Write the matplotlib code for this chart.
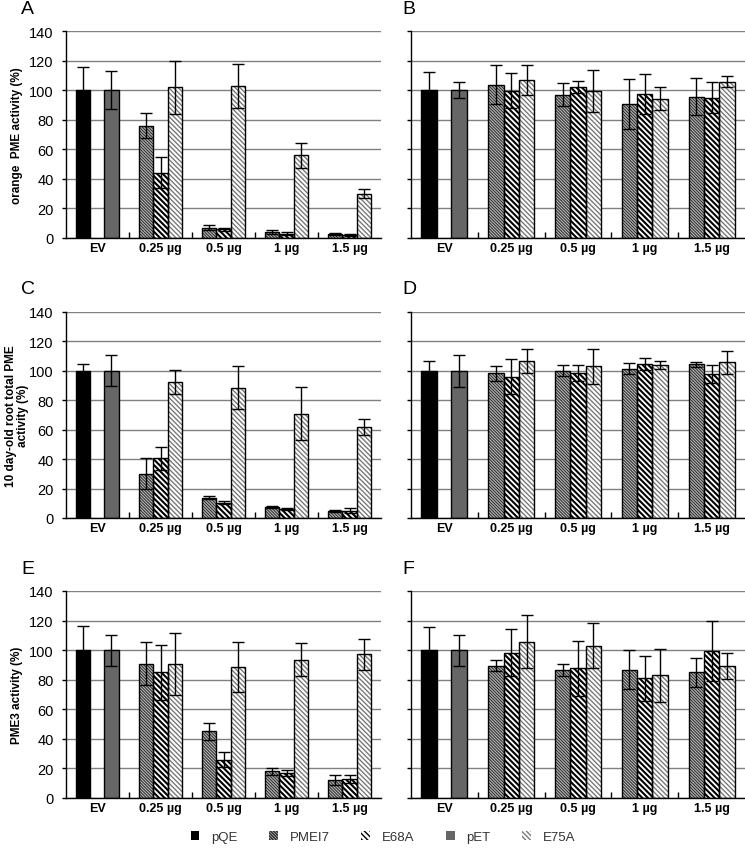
import matplotlib
matplotlib.use("Agg")
import matplotlib.pyplot as plt
from matplotlib.patches import Patch
import numpy as np

plt.rcParams['font.family'] = ['Liberation Sans', 'DejaVu Sans']

categories = ["EV", "0.25 µg", "0.5 µg", "1 µg", "1.5 µg"]
series = ["pQE", "PMEI7", "E68A", "pET", "E75A"]

# EV controls: [pQE, pET] values and errors per panel
ev_vals = {
    "A": [100, 100], "B": [100, 100], "C": [100, 100],
    "D": [100, 100], "E": [100, 100], "F": [100, 100],
}
ev_errs = {
    "A": [15.5, 13], "B": [12, 5.5], "C": [5, 10.5],
    "D": [6.5, 11], "E": [16, 10.5], "F": [15.5, 10.5],
}
# Dose groups (0.25, 0.5, 1, 1.5 µg) for PMEI7, E68A, E75A
pmei7_vals = {
    "A": [76, 7, 4, 2.5], "B": [103.8, 97, 90.5, 95.7],
    "C": [30, 13.9, 7.3, 4.8], "D": [98.4, 100, 101.6, 104.5],
    "E": [90.9, 45, 18, 12], "F": [89.6, 86.4, 86.9, 84.9],
}
pmei7_errs = {
    "A": [8.5, 1.5, 1.5, 0.8], "B": [13, 8, 17, 12.8],
    "C": [10.5, 1.3, 0.6, 0.4], "D": [5, 3.8, 3.8, 1.6],
    "E": [14.6, 6, 2.5, 3.3], "F": [3.5, 4, 13, 9.5],
}
e68a_vals = {
    "A": [44, 6, 3, 2], "B": [99.7, 102, 97.7, 95],
    "C": [40.5, 10.5, 6.1, 5], "D": [96.1, 98.4, 104.5, 97.7],
    "E": [84.9, 26, 17, 13], "F": [98.4, 87.8, 80.9, 99.3],
}
e68a_errs = {
    "A": [10.5, 1, 1, 0.5], "B": [12, 4, 13.5, 10.7],
    "C": [8, 1, 0.4, 1.5], "D": [11.7, 5.6, 4.1, 6],
    "E": [18.3, 5.2, 2, 2.7], "F": [15.8, 18.5, 15.2, 20.5],
}
e75a_vals = {
    "A": [102, 103, 56, 30], "B": [107, 99.3, 94.3, 105.8],
    "C": [92.3, 88.6, 70.9, 62], "D": [106.8, 103, 103.9, 105.7],
    "E": [90.4, 88.7, 93.6, 97.1], "F": [105.8, 103.1, 82.9, 89.3],
}
e75a_errs = {
    "A": [18, 15, 8.5, 3.2], "B": [10, 14, 7.6, 3.5],
    "C": [8, 14.5, 18, 5.5], "D": [8, 11.7, 2.5, 8],
    "E": [21, 17, 11, 10.3], "F": [18, 15.5, 18, 9],
}
ylabels = {
    "A": "orange  PME activity (%)",
    "C": "10 day-old root total PME\nactivity (%)",
    "E": "PME3 activity (%)",
}
yticks = [0, 20, 40, 60, 80, 100, 120, 140]

W, H = 745, 853
fig = plt.figure(figsize=(W / 100, H / 100), dpi=100)

def px_axes(l, t, r, b):
    return fig.add_axes([l / W, 1 - b / H, (r - l) / W, (b - t) / H])

styles = {
    "pQE": dict(face="black", hatch=None, hcol=None, hlw=0),
    "pET": dict(face="#666666", hatch=None, hcol=None, hlw=0),
    "PMEI7": dict(face="#b4b4b4", hatch="\\" * 11, hcol="#2a2a2a", hlw=0.7),
    "E68A": dict(face="white", hatch="\\" * 6, hcol="black", hlw=1.5),
    "E75A": dict(face="white", hatch="\\" * 7, hcol="#7a7a7a", hlw=1.0),
}

bw = 0.23

def draw_bars(ax, x, vals, errs, name):
    st = styles[name]
    if st["hatch"]:
        bars = ax.bar(x, vals, bw, color=st["face"], edgecolor=st["hcol"],
                      hatch=st["hatch"], linewidth=0, zorder=3)
        for b in bars:
            if hasattr(b, "set_hatch_linewidth"):
                b.set_hatch_linewidth(st["hlw"])
        ax.bar(x, vals, bw, facecolor="none", edgecolor="black",
               linewidth=1.0, zorder=4)
    else:
        ax.bar(x, vals, bw, color=st["face"], edgecolor="black",
               linewidth=1.0, zorder=3)
    ax.errorbar(x, vals, yerr=errs, fmt="none", ecolor="black",
                elinewidth=1.0, capsize=4, capthick=1.0, zorder=5)

rows = [(32, 239), (313, 519), (592, 799)]
cols = [(66, 381), (411, 745)]
panels = [["A", "B"], ["C", "D"], ["E", "F"]]

groups = np.arange(len(categories))
for ri, (t, b) in enumerate(rows):
    for ci, (l, r) in enumerate(cols):
        key = panels[ri][ci]
        ax = px_axes(l, t, r, b)
        ax.set_xlim(-0.5, len(categories) - 0.5)
        ax.set_ylim(0, 140)
        ax.set_yticks(yticks)
        ax.yaxis.grid(True, color="#808080", linewidth=1.0, zorder=0)
        ax.set_axisbelow(True)
        for s in ["top", "right"]:
            ax.spines[s].set_visible(False)
        for s in ["left", "bottom"]:
            ax.spines[s].set_color("black")
            ax.spines[s].set_linewidth(1.0)
            ax.spines[s].set_zorder(6)
        # EV controls
        draw_bars(ax, [groups[0] - 0.23], [ev_vals[key][0]], [ev_errs[key][0]], "pQE")
        draw_bars(ax, [groups[0] + 0.22], [ev_vals[key][1]], [ev_errs[key][1]], "pET")
        dx = groups[1:]
        draw_bars(ax, dx - bw, pmei7_vals[key], pmei7_errs[key], "PMEI7")
        draw_bars(ax, dx, e68a_vals[key], e68a_errs[key], "E68A")
        draw_bars(ax, dx + bw, e75a_vals[key], e75a_errs[key], "E75A")

        ax.set_xticks(groups)
        ax.set_xticklabels(categories, fontsize=9, fontweight="bold")
        ax.set_xticks(groups[:-1] + 0.5, minor=True)
        ax.tick_params(axis="x", which="major", length=0, pad=3)
        ax.tick_params(axis="x", which="minor", length=4, direction="in",
                       width=1.0)
        ax.tick_params(axis="y", length=3, direction="out", width=1.0)
        if ci == 0:
            ax.set_yticklabels([str(v) for v in yticks], fontsize=10.5)
            ax.tick_params(axis="y", pad=6)
            ycen = 1 - (t + b) / 2 / H
            xlab = 17 / W
            fig.text(xlab, ycen, ylabels[key], rotation=90, ha="center",
                     va="center", fontsize=8.5, fontweight="bold",
                     multialignment="center", linespacing=1.0)
        else:
            ax.set_yticklabels([])
        # panel letter
        lx = 21 if ci == 0 else 402
        fig.text(lx / W, 1 - (t - 23) / H, key, fontsize=14, ha="left",
                 va="center")

handles = []
for name in series:
    st = styles[name]
    if st["hatch"]:
        handles.append(Patch(facecolor=st["face"], edgecolor=st["hcol"],
                             hatch=st["hatch"], linewidth=0))
    else:
        handles.append(Patch(facecolor=st["face"], edgecolor="none"))
leg = fig.legend(handles, series, loc="center", ncol=5,
                 bbox_to_anchor=(0.514, 1 - 838 / H), frameon=False,
                 fontsize=9.5, handlelength=0.65, handleheight=0.65,
                 columnspacing=2.4, handletextpad=0.9)
for txt in leg.get_texts():
    txt.set_color("#333333")

fig.savefig("out.png", dpi=100)
